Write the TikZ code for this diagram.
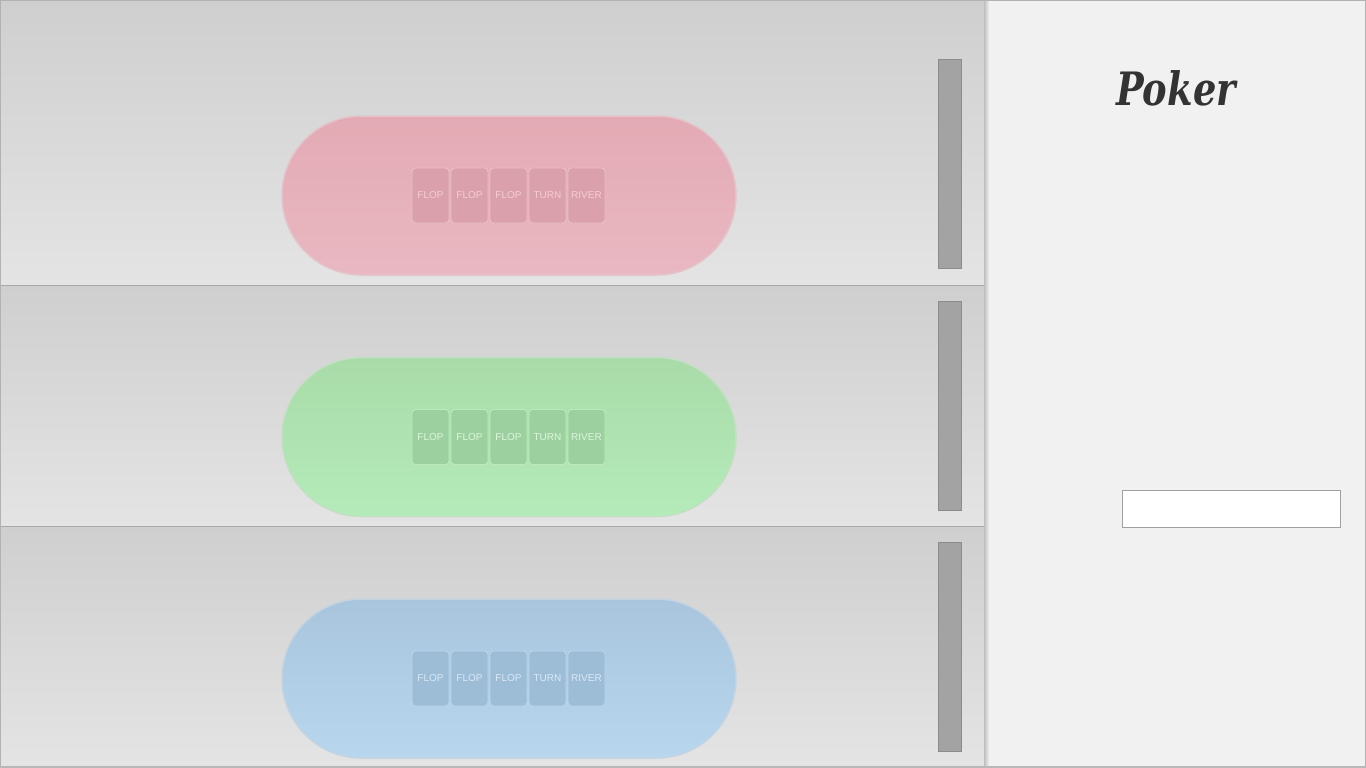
\documentclass[tikz,border=0pt]{standalone}
\usepackage{fontspec}
\setmainfont{Liberation Sans}
\newfontfamily\titlefont{DejaVu Serif}
\definecolor{panelTop}{HTML}{CFCFCF}
\definecolor{panelBot}{HTML}{E4E4E4}
\definecolor{sideBg}{HTML}{F1F1F1}
\definecolor{scrollFill}{HTML}{A3A3A3}
\definecolor{scrollLine}{HTML}{8C8C8C}
\definecolor{sepLine}{HTML}{A8A8A8}
\definecolor{pinkTop}{HTML}{E3AAB4}
\definecolor{pinkBot}{HTML}{E9B8C2}
\definecolor{pinkCard}{HTML}{DAA0AB}
\definecolor{pinkEdge}{HTML}{EDBFC8}
\definecolor{pinkText}{HTML}{F5CDD4}
\definecolor{greenTop}{HTML}{A8DBA8}
\definecolor{greenBot}{HTML}{B5EBBA}
\definecolor{greenCard}{HTML}{9CD19F}
\definecolor{greenEdge}{HTML}{BBEBBD}
\definecolor{greenText}{HTML}{DCF6DD}
\definecolor{blueTop}{HTML}{A8C5DD}
\definecolor{blueBot}{HTML}{B8D7EF}
\definecolor{blueCard}{HTML}{9DBCD5}
\definecolor{blueEdge}{HTML}{BCD6EC}
\definecolor{blueText}{HTML}{D9EAF7}
\definecolor{titleInk}{HTML}{333333}
\definecolor{boxLine}{HTML}{A0A0A0}
\tikzset{
  panelbox/.style={shading=axis, top color=panelTop, bottom color=panelBot, draw=none},
  scrollbar/.style={draw=scrollLine, fill=scrollFill, line width=1pt, minimum width=23pt, minimum height=209pt, inner sep=0pt},
  tablebox/.style={minimum width=454pt, minimum height=159pt, inner sep=0pt, rounded corners=79.5pt},
  cardbox/.style={minimum width=37pt, minimum height=55pt, inner sep=0pt, rounded corners=3.5pt, line width=0.9pt, font=\fontsize{10}{12}\selectfont},
  inputbox/.style={draw=boxLine, fill=white, line width=1pt, minimum width=218pt, minimum height=37pt, inner sep=0pt},
}
\begin{document}
\begin{tikzpicture}[x=1pt,y=-1pt]
\useasboundingbox (0,0) rectangle (1366,768);
% background
\fill[sideBg] (0,0) rectangle (1366,768);
% panels
\fill[panelbox] (0,1) rectangle (985,285);
\fill[panelbox] (0,286) rectangle (985,526);
\fill[panelbox] (0,527) rectangle (985,766);
\draw[sepLine, line width=1.2pt] (0,285.5) -- (985,285.5);
\draw[sepLine, line width=1.2pt] (0,526.5) -- (985,526.5);
% right panel shadow edge
\fill[left color=black!25, right color=sideBg] (984,0) rectangle (989,768);
\fill[sideBg] (989,0) rectangle (1366,768);
% outer frame
\draw[black!30, line width=1pt] (0.5,0.5) rectangle (1365.5,767.5);
\draw[black!28, line width=2pt] (0,767) -- (1366,767);
% scrollbars
\node[scrollbar] (s1) at (950,164) {};
\node[scrollbar] (s2) at (950,406) {};
\node[scrollbar] (s3) at (950,647) {};
% tables and cards
\foreach \t/\cy/\col in {1/195.5/pink, 2/437/green, 3/678.5/blue}{
  \node[tablebox, shading=axis, top color=\col Top, bottom color=\col Bot, draw=\col Top!55!panelBot, line width=1.5pt] (table\t) at (509,\cy) {};
  \foreach \i/\lab in {1/FLOP, 2/FLOP, 3/FLOP, 4/TURN, 5/RIVER}{
    \node[cardbox, fill=\col Card, draw=\col Edge, text=\col Text] (t\t c\i) at ({430.5+39*(\i-1)},\cy) {\lab};
  }
}
% title
\node[text=titleInk, font=\titlefont\bfseries\itshape\fontsize{46}{52}\selectfont, xscale=0.8, inner sep=0pt] (title) at (1176,88) {Poker};
% input
\node[inputbox] (input) at (1231.5,509) {};
\end{tikzpicture}
\end{document}
